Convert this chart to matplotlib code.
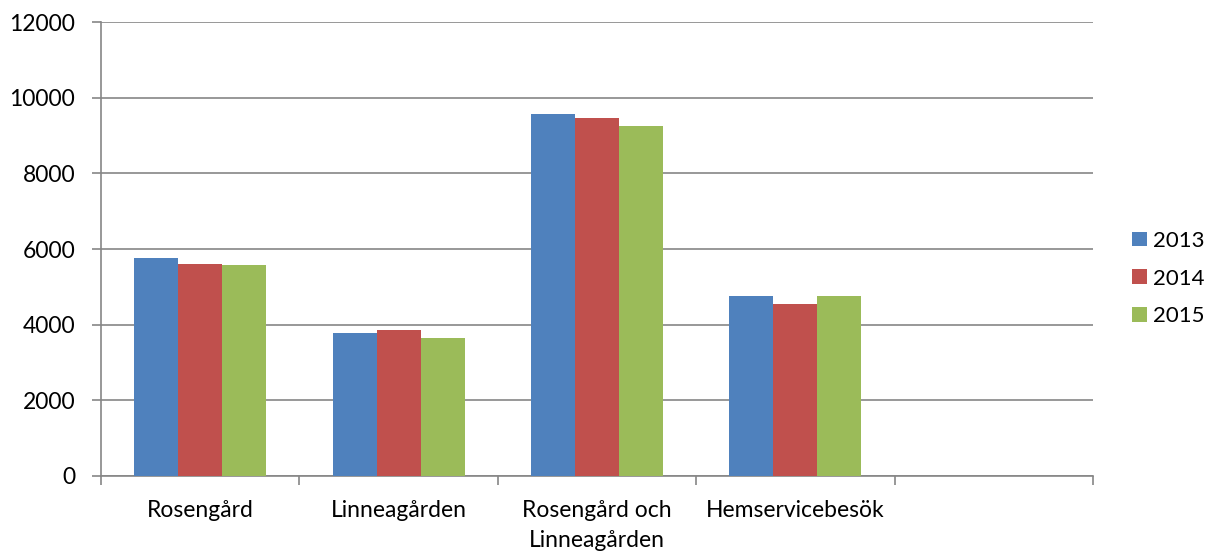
import matplotlib.pyplot as plt
import numpy as np

categories = ["Rosengård", "Linneagården", "Rosengård och\nLinneagården", "Hemservicebesök", ""]
years = ["2013", "2014", "2015"]
v2013 = [5750, 3790, 9570, 4770, np.nan]
v2014 = [5600, 3860, 9450, 4540, np.nan]
v2015 = [5590, 3640, 9240, 4770, np.nan]
colors = ["#4F81BD", "#C0504D", "#9BBB59"]

plt.rcParams["font.family"] = ["Lato", "DejaVu Sans"]

fig = plt.figure(figsize=(12.10, 5.53), dpi=100)
ax = fig.add_axes([101 / 1210, 1 - 476 / 553, (1093 - 101) / 1210, (476 - 22) / 553])

x = np.arange(len(categories))
w = 0.222
for i, (vals, c, lab) in enumerate(zip([v2013, v2014, v2015], colors, years)):
    ax.bar(x + (i - 1) * w, vals, w, color=c, label=lab, zorder=3)

ax.set_xlim(-0.5, len(categories) - 0.5)
ax.set_ylim(0, 12000)
ax.set_yticks(np.arange(0, 12001, 2000))
ax.yaxis.grid(True, color="#868686", linewidth=1.2, zorder=0)

ax.set_xticks(np.arange(-0.5, len(categories), 1.0))
ax.set_xticklabels([])
ax.set_xticks(x, minor=True)
ax.set_xticklabels(categories, minor=True, fontsize=16.5, linespacing=1.55)
ax.tick_params(axis="x", which="minor", length=0, pad=17)
ax.tick_params(axis="x", which="major", length=6.5, color="#868686", width=1.2)
ax.tick_params(axis="y", length=6.5, color="#868686", width=1.2, labelsize=16.5, pad=12)

for s in ["top", "right"]:
    ax.spines[s].set_visible(False)
for s in ["left", "bottom"]:
    ax.spines[s].set_color("#868686")
    ax.spines[s].set_linewidth(1.2)

ax.legend(loc="center left", bbox_to_anchor=(1.024, 0.435), frameon=False, fontsize=16,
          handlelength=0.65, handleheight=0.65, handletextpad=0.3, labelspacing=0.8,
          borderpad=0.2)

fig.savefig("out.png", dpi=100)
